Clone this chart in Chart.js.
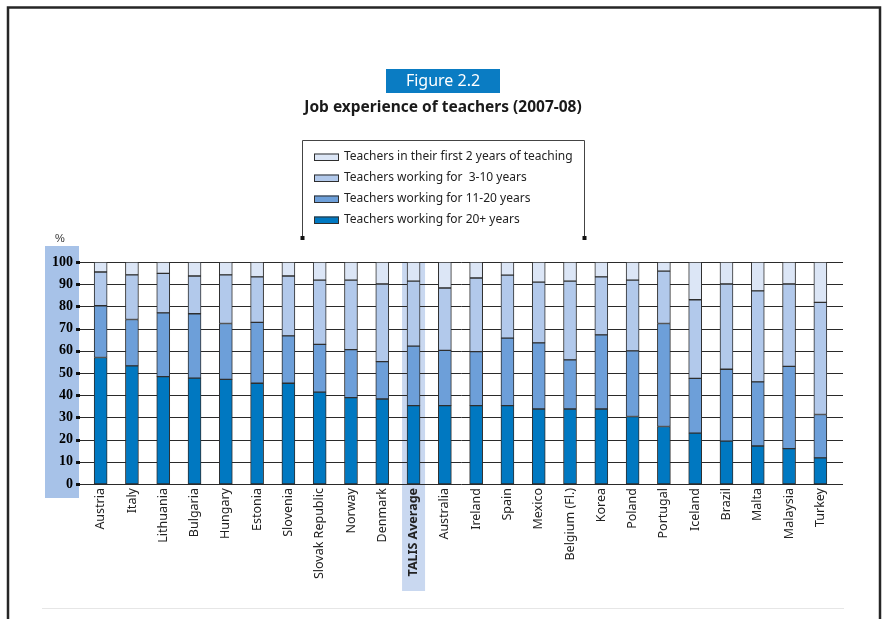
<!DOCTYPE html>
<html>
<head>
<meta charset="utf-8">
<script src="https://cdn.jsdelivr.net/npm/chart.js"></script>
<style>
  html, body { margin: 0; padding: 0; background: #fff; }
  #wrap { width: 882px; height: 619px; position: relative; }
</style>
</head>
<body>
<div id="wrap"><canvas id="chart"></canvas></div>
<script>
// countries, in the order of the figure
const categories = ['Austria', 'Italy', 'Lithuania', 'Bulgaria', 'Hungary', 'Estonia', 'Slovenia',
  'Slovak Republic', 'Norway', 'Denmark', 'TALIS Average', 'Australia', 'Ireland', 'Spain', 'Mexico',
  'Belgium (Fl.)', 'Korea', 'Poland', 'Portugal', 'Iceland', 'Brazil', 'Malta', 'Malaysia', 'Turkey'];

// shares of teachers (%)
const over20 = [57.0, 53.2, 48.4, 47.7, 47.1, 45.4, 45.4, 41.4, 38.9, 38.3, 35.3, 35.3, 35.3, 35.3,
  33.8, 33.8, 33.8, 30.4, 25.9, 22.9, 19.3, 17.1, 15.9, 11.8];
const y11to20 = [23.3, 20.9, 28.7, 29.0, 25.2, 27.4, 21.3, 21.5, 21.6, 16.8, 26.8, 24.9, 24.3, 30.4,
  29.8, 22.1, 33.4, 29.6, 46.4, 24.7, 32.4, 28.9, 37.1, 19.5];
const y3to10 = [15.2, 20.1, 17.8, 17.0, 21.9, 20.5, 27.0, 28.9, 31.3, 35.0, 29.3, 28.1, 33.2, 28.4,
  27.3, 35.5, 26.1, 31.8, 23.6, 35.4, 38.4, 41.0, 37.1, 50.5];
const first2 = [4.5, 5.8, 5.1, 6.3, 5.8, 6.7, 6.3, 8.2, 8.2, 9.9, 8.6, 11.7, 7.2, 5.9,
  9.1, 8.6, 6.7, 8.2, 4.1, 17.0, 9.9, 13.0, 9.9, 18.2];

const avgLabel = 'TALIS Average';
const edge = '#2e2e2e';

const datasets = [
  { label: 'Teachers working for 20+ years', data: over20, backgroundColor: '#0078c1' },
  { label: 'Teachers working for 11-20 years', data: y11to20, backgroundColor: '#6d9fd9' },
  { label: 'Teachers working for  3-10 years', data: y3to10, backgroundColor: '#b2c9eb' },
  { label: 'Teachers in their first 2 years of teaching', data: first2, backgroundColor: '#dce6f6' }
].map(d => Object.assign(d, { borderColor: edge, borderWidth: 1, barThickness: 13, borderSkipped: false }));

const decor = {
  id: 'decor',
  beforeDraw(chart) {
    const c = chart.ctx;
    const x = chart.scales.x;
    c.save();
    c.fillStyle = '#fff';
    c.fillRect(0, 0, chart.width, chart.height);
    // shaded band behind the value axis
    c.fillStyle = '#a7c2e8';
    c.fillRect(45, 246, 34, 252);
    // band behind the average
    const xa = x.getPixelForValue(categories.indexOf(avgLabel));
    c.fillStyle = '#c9d8f0';
    c.fillRect(xa - 11.5, chart.chartArea.top, 23, 591 - chart.chartArea.top);
    c.restore();
  },
  beforeDatasetsDraw(chart) {
    const c = chart.ctx;
    const y = chart.scales.y;
    c.save();
    y.ticks.forEach(t => {
      const py = Math.round(y.getPixelForValue(t.value)) + 0.5;
      c.strokeStyle = '#2a2a2a';
      c.lineWidth = 1;
      c.beginPath();
      c.moveTo(80, py);
      c.lineTo(843, py);
      c.stroke();
      c.fillStyle = '#111';
      c.fillRect(76, py - 1.5, 4, 3);
    });
    c.restore();
  },
  afterDraw(chart) {
    const c = chart.ctx;
    c.save();
    // outer frame
    c.strokeStyle = '#262626';
    c.lineWidth = 2.5;
    c.strokeRect(8, 7.5, 872, 640);
    // faint rule at the foot
    c.strokeStyle = '#e6e6e6';
    c.lineWidth = 1;
    c.beginPath();
    c.moveTo(42, 608.5);
    c.lineTo(844, 608.5);
    c.stroke();

    // figure tag
    c.fillStyle = '#0a7cc3';
    c.fillRect(386, 69, 114, 24);
    c.fillStyle = '#fff';
    c.font = '16px "Noto Sans"';
    c.textAlign = 'center';
    c.textBaseline = 'middle';
    c.fillText('Figure 2.2', 443, 81);

    // title
    c.fillStyle = '#1a1a1a';
    c.font = 'bold 15.5px "Noto Sans"';
    c.fillText('Job experience of teachers (2007-08)', 443, 108);

    // legend bracket
    c.strokeStyle = '#444';
    c.lineWidth = 1;
    c.beginPath();
    c.moveTo(302.5, 238);
    c.lineTo(302.5, 140.5);
    c.lineTo(584.5, 140.5);
    c.lineTo(584.5, 238);
    c.stroke();
    c.fillStyle = '#111';
    c.fillRect(300.5, 236, 4, 4);
    c.fillRect(582.5, 236, 4, 4);

    // legend entries, newest teachers first
    c.textAlign = 'left';
    c.font = '12px "Noto Sans"';
    const rows = chart.data.datasets.slice().reverse();
    rows.forEach((d, i) => {
      const ry = 157 + i * 21;
      c.fillStyle = d.backgroundColor;
      c.fillRect(314, ry - 3.5, 25, 7);
      c.strokeStyle = edge;
      c.strokeRect(314.5, ry - 3, 24, 6.5);
      c.fillStyle = '#222';
      c.fillText(d.label, 344, ry);
    });

    // unit
    c.textAlign = 'center';
    c.font = '11px "Liberation Sans"';
    c.fillStyle = '#333';
    c.fillText('%', 60, 239);
    c.restore();
  }
};

new Chart(document.getElementById('chart'), {
  type: 'bar',
  data: { labels: categories, datasets: datasets },
  plugins: [decor],
  options: {
    responsive: true,
    maintainAspectRatio: false,
    animation: false,
    layout: { padding: { top: 262, right: 46, bottom: 0, left: 0 } },
    plugins: { legend: { display: false }, tooltip: { enabled: false }, title: { display: false } },
    scales: {
      x: {
        stacked: true,
        grid: { display: false, drawTicks: false },
        border: { display: false },
        afterFit(s) { s.height = 135; },
        ticks: {
          minRotation: 90,
          maxRotation: 90,
          autoSkip: false,
          padding: 4,
          color: '#222',
          font(ctx) {
            return categories[ctx.index] === avgLabel
              ? { family: 'Noto Sans', size: 12.5, weight: 'bold' }
              : { family: 'Noto Sans', size: 12.5 };
          }
        }
      },
      y: {
        stacked: true,
        min: 0,
        max: 100,
        grid: { display: false, drawTicks: false },
        border: { display: false },
        afterFit(s) { s.width = 85; },
        ticks: {
          stepSize: 10,
          padding: 12,
          color: '#000',
          font: { family: 'Liberation Serif', size: 14, weight: 'bold' }
        }
      }
    }
  }
});
</script>
</body>
</html>
